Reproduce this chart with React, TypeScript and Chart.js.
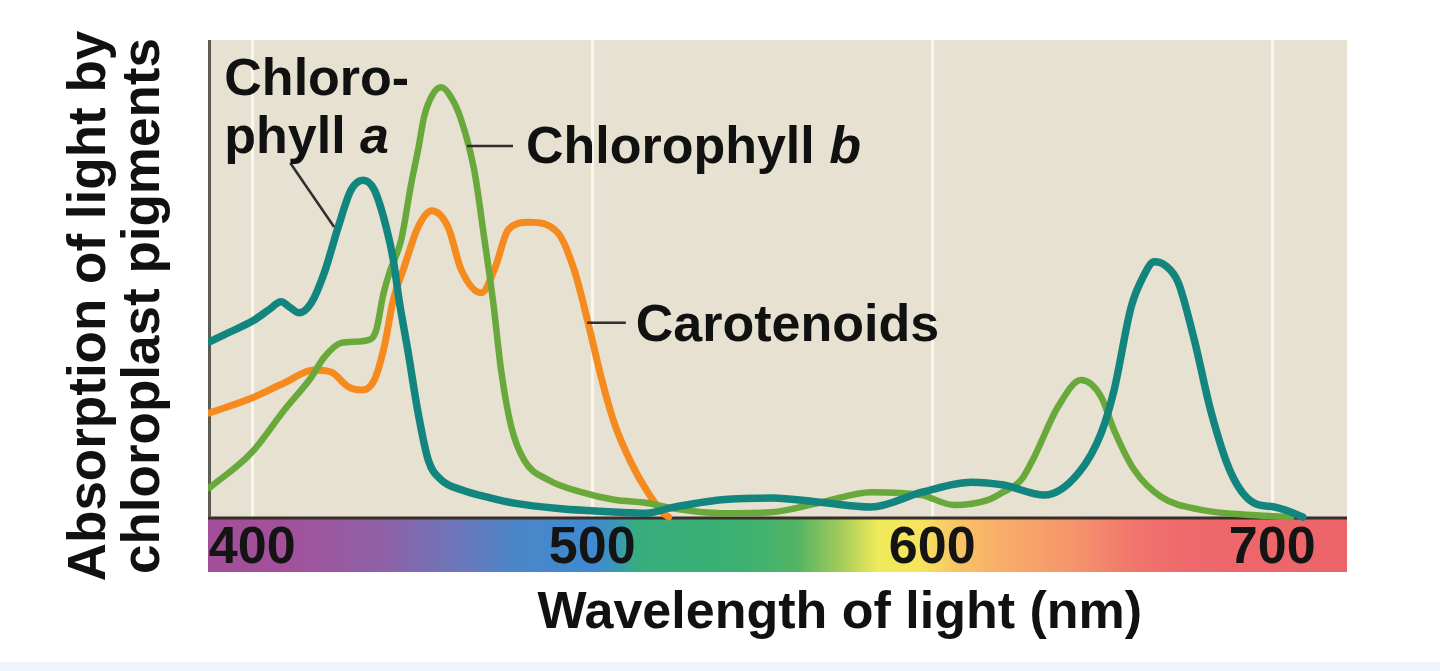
import React, { useEffect, useRef } from 'react';
import { Chart, registerables } from 'chart.js';

Chart.register(...registerables);

// ---------- data ----------
const tickValues = [400, 500, 600, 700];

const chlAWavelengths = [387.4, 392, 400.6, 405, 408.5, 411, 413.8, 417.4, 421.2, 425.3, 429.1, 432.6, 435.9, 439.4, 441.5, 443.2, 445.9, 448.8, 451.8, 455.6, 461.5, 470, 477, 490, 508, 516, 523, 538, 553, 567, 582, 597, 611.5, 621, 633, 643, 649.7, 653.5, 658.5, 662, 665.3, 668.8, 672.4, 677.1, 682.1, 687.9, 694.7, 700.6, 705.6, 709];
const chlAValues = [0.367, 0.383, 0.413, 0.435, 0.451, 0.44, 0.428, 0.449, 0.512, 0.608, 0.686, 0.706, 0.686, 0.608, 0.539, 0.455, 0.344, 0.218, 0.119, 0.078, 0.057, 0.04, 0.029, 0.018, 0.01, 0.008, 0.019, 0.036, 0.04, 0.031, 0.021, 0.052, 0.073, 0.067, 0.046, 0.092, 0.176, 0.266, 0.44, 0.503, 0.535, 0.526, 0.491, 0.371, 0.218, 0.092, 0.029, 0.021, 0.01, 0.0];

const chlBWavelengths = [387.4, 399.7, 409.4, 417.4, 421.2, 426.2, 434.1, 436.5, 438.5, 440.5, 443.8, 446.8, 448.8, 450.6, 453, 455.6, 458.5, 461.5, 465.3, 468.2, 470.9, 473.2, 476.2, 480, 487, 496.8, 506.5, 516.5, 523.2, 537.9, 552.6, 567.4, 582.1, 596.8, 606.5, 616.5, 620.3, 626.2, 630, 637, 643.8, 649.7, 653.5, 659.4, 667.4, 679.1, 693.8, 705.6];
const chlBValues = [0.061, 0.134, 0.224, 0.293, 0.335, 0.365, 0.371, 0.392, 0.465, 0.515, 0.58, 0.7, 0.77, 0.84, 0.885, 0.901, 0.88, 0.832, 0.727, 0.587, 0.449, 0.308, 0.189, 0.119, 0.078, 0.052, 0.036, 0.029, 0.019, 0.008, 0.01, 0.031, 0.052, 0.046, 0.025, 0.036, 0.05, 0.078, 0.126, 0.231, 0.287, 0.252, 0.182, 0.099, 0.042, 0.015, 0.004, 0.0];

const carotWavelengths = [387.4, 399.7, 409.4, 418.2, 423.2, 428.2, 432.1, 435.9, 438.8, 441.5, 444.7, 448.8, 452.8, 457.6, 461.5, 467.4, 471.5, 475.3, 481.5, 490, 494.7, 498.8, 502.6, 506.5, 511.5, 516.5, 520.9, 522.5];
const carotValues = [0.218, 0.249, 0.281, 0.308, 0.304, 0.273, 0.266, 0.287, 0.356, 0.455, 0.524, 0.608, 0.642, 0.608, 0.518, 0.47, 0.524, 0.602, 0.618, 0.595, 0.518, 0.407, 0.294, 0.197, 0.113, 0.05, 0.008, 0.0];

const spectrumWavelengths = [387, 410, 440, 462, 478, 500, 507, 513, 545, 560, 572, 584, 596, 608, 620, 640, 660, 675, 722];
const spectrumColors = ['#a24e99', '#a3519b', '#8d62a8', '#6a78bb', '#4a86c8', '#3f8ad0', '#3b96b8', '#37ad7e', '#3cb171', '#52b465', '#9cc95a', '#eeea5a', '#f7e45e', '#f8c266', '#f8ad6a', '#f5976b', '#f0746d', '#ee696b', '#ec6469'];

const seriesNames = ['Chlorophyll a', 'Chlorophyll b', 'Carotenoids'];
const seriesColors = ['#13857f', '#69a83a', '#f58a1f'];

const yTitleLines = ['Absorption of light by', 'chloroplast pigments'];
const xTitle = 'Wavelength of light (nm)';

// annotation labels: [text, italic] parts, anchored in data units
const annotationLabels = [
  { parts: [['Chloro-', false]], nm: 391.8, v: 0.885 },
  { parts: [['phyll ', false], ['a', true]], nm: 391.8, v: 0.763 },
  { parts: [['Chlorophyll ', false], ['b', true]], nm: 480.5, v: 0.742 },
  { parts: [['Carotenoids', false]], nm: 512.8, v: 0.369 },
];
const leaderLines = [
  [411.2, 0.742, 424.1, 0.608],
  [463.2, 0.778, 476.7, 0.778],
  [498.5, 0.407, 509.9, 0.407],
];

const FAMILY = '"Liberation Sans", Arial, Helvetica, sans-serif';

const toPoints = (xs: number[], ys: number[]) => xs.map((x, i) => ({ x, y: ys[i] }));

export default function App() {
  const ref = useRef<HTMLCanvasElement>(null);

  useEffect(() => {
    const canvas = ref.current;
    if (!canvas) return;

    const panelPlugin = {
      id: 'panelPlugin',
      beforeDraw(chart: any) {
        const { ctx, chartArea: a } = chart;
        const y = chart.scales.y;
        ctx.save();
        ctx.fillStyle = '#ffffff';
        ctx.fillRect(0, 0, chart.width, chart.height);
        ctx.fillStyle = '#eef4fb';
        ctx.fillRect(0, chart.height - 9, chart.width, 9);
        ctx.fillStyle = '#e6e1d0';
        ctx.fillRect(a.left, a.top, a.right - a.left, y.getPixelForValue(0) - a.top);
        ctx.restore();
      },
      beforeDatasetsDraw(chart: any) {
        const { ctx, chartArea: a } = chart;
        const x = chart.scales.x;
        const y = chart.scales.y;
        const top = y.getPixelForValue(0);
        const g = ctx.createLinearGradient(a.left, 0, a.right, 0);
        spectrumWavelengths.forEach((w, i) => {
          const p = (x.getPixelForValue(w) - a.left) / (a.right - a.left);
          g.addColorStop(Math.min(1, Math.max(0, p)), spectrumColors[i]);
        });
        ctx.save();
        ctx.fillStyle = g;
        ctx.fillRect(a.left, top, a.right - a.left, a.bottom - top);
        ctx.strokeStyle = '#3a2c2a';
        ctx.lineWidth = 3;
        ctx.beginPath();
        ctx.moveTo(a.left, top + 1);
        ctx.lineTo(a.right, top + 1);
        ctx.stroke();
        ctx.strokeStyle = '#5e5a54';
        ctx.lineWidth = 3;
        ctx.beginPath();
        ctx.moveTo(a.left + 1.5, a.top);
        ctx.lineTo(a.left + 1.5, top);
        ctx.stroke();
        ctx.restore();
      },
      afterDatasetsDraw(chart: any) {
        const { ctx } = chart;
        const x = chart.scales.x;
        const y = chart.scales.y;
        ctx.save();
        ctx.strokeStyle = '#2e2e2e';
        ctx.lineWidth = 2.5;
        leaderLines.forEach(([x1, y1, x2, y2]) => {
          ctx.beginPath();
          ctx.moveTo(x.getPixelForValue(x1), y.getPixelForValue(y1));
          ctx.lineTo(x.getPixelForValue(x2), y.getPixelForValue(y2));
          ctx.stroke();
        });
        ctx.fillStyle = '#111111';
        ctx.textBaseline = 'alphabetic';
        ctx.textAlign = 'left';
        annotationLabels.forEach((lab) => {
          let px = x.getPixelForValue(lab.nm);
          const py = y.getPixelForValue(lab.v);
          lab.parts.forEach(([t, it]) => {
            ctx.font = `${it ? 'italic ' : ''}bold 52px ${FAMILY}`;
            ctx.fillText(t as string, px, py);
            px += ctx.measureText(t as string).width;
          });
        });
        ctx.font = `bold 52px ${FAMILY}`;
        ctx.textAlign = 'center';
        ctx.fillText(xTitle, x.getPixelForValue(572.8), x.top + 56);
        ctx.restore();
      },
    };

    const chart = new Chart(canvas, {
      type: 'line',
      data: {
        datasets: [
          { label: seriesNames[0], data: toPoints(chlAWavelengths, chlAValues), borderColor: seriesColors[0], borderWidth: 7.5 },
          { label: seriesNames[1], data: toPoints(chlBWavelengths, chlBValues), borderColor: seriesColors[1], borderWidth: 6.5 },
          { label: seriesNames[2], data: toPoints(carotWavelengths, carotValues), borderColor: seriesColors[2], borderWidth: 7 },
        ],
      },
      options: {
        animation: false,
        responsive: false,
        maintainAspectRatio: false,
        layout: { padding: { left: 0, top: 40, right: 93, bottom: 20 } },
        elements: {
          point: { radius: 0, hoverRadius: 0 },
          line: { cubicInterpolationMode: 'monotone', fill: false, borderCapStyle: 'round', borderJoinStyle: 'round' },
        },
        plugins: { legend: { display: false }, tooltip: { enabled: false } },
        events: [],
        scales: {
          x: {
            type: 'linear',
            min: 387,
            max: 722,
            afterBuildTicks: (s: any) => {
              s.ticks = tickValues.map((v) => ({ value: v }));
            },
            afterFit: (s: any) => {
              s.height = 79;
            },
            grid: { color: '#f8f6ee', lineWidth: 3, drawTicks: false },
            border: { display: false },
            ticks: {
              mirror: true,
              padding: -3,
              z: 1,
              autoSkip: false,
              maxRotation: 0,
              color: '#141414',
              font: { family: FAMILY, size: 52, weight: 'bold', lineHeight: 1.0 },
              callback: (v: any) => String(v),
            },
          },
          y: {
            type: 'linear',
            min: -0.1153,
            max: 1,
            afterFit: (s: any) => {
              s.width = 208;
            },
            grid: { display: false },
            border: { display: false },
            ticks: { display: false },
            title: {
              display: true,
              text: yTitleLines,
              color: '#111111',
              font: { family: FAMILY, size: 53, weight: 'bold', lineHeight: 1.02 },
              padding: { top: 63, bottom: 0 },
            },
          },
        },
      },
      plugins: [panelPlugin],
    } as any);

    return () => chart.destroy();
  }, []);

  return (
    <div style={{ position: 'fixed', left: 0, top: 0, width: 1440, height: 671, background: '#ffffff' }}>
      <canvas ref={ref} width={1440} height={671} style={{ display: 'block', width: 1440, height: 671 }} />
    </div>
  );
}
